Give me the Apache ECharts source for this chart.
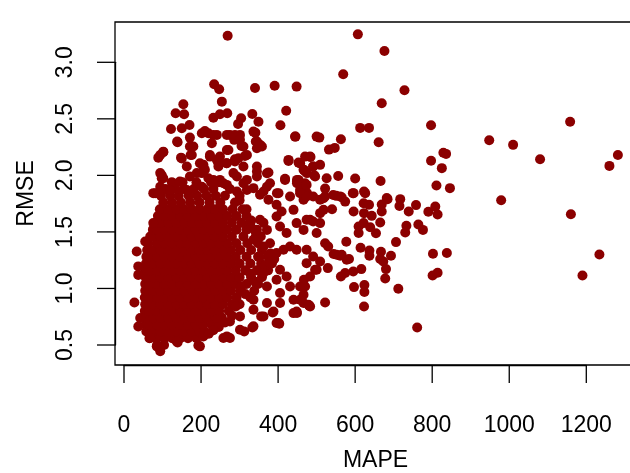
<!DOCTYPE html>
<html>
<head>
<meta charset="utf-8">
<script src="https://cdn.jsdelivr.net/npm/echarts@6/dist/echarts.min.js"></script>
<style>
html,body{margin:0;padding:0;background:#fff;}
#chart{width:630px;height:473px;}
</style>
</head>
<body>
<div id="chart"></div>
<script>
// ---- data (MAPE, RMSE) ----
var xTicks = [0, 200, 400, 600, 800, 1000, 1200];
var yTicks = [0.5, 1.0, 1.5, 2.0, 2.5, 3.0];

// dense core: each row = [RMSE, MAPE values...]
var coreRows = [
  [0.50, 86, 104],
  [0.56, 66, 85, 105, 125, 146, 166, 188],
  [0.62, 58, 76, 95, 115, 136, 156, 176, 196, 210],
  [0.68, 56, 66, 86, 105, 125, 146, 166, 186, 206, 228],
  [0.74, 55, 76, 95, 115, 136, 156, 176, 196, 216, 236, 254],
  [0.80, 54, 66, 86, 105, 125, 146, 166, 186, 206, 226, 247, 272],
  [0.86, 55, 76, 95, 115, 136, 156, 176, 196, 216, 236, 257, 280, 300],
  [0.92, 54, 66, 86, 105, 125, 146, 166, 186, 206, 226, 247, 268, 292, 328],
  [0.98, 55, 76, 95, 115, 136, 156, 176, 196, 216, 236, 257, 278, 302, 338],
  [1.04, 55, 66, 86, 105, 125, 146, 166, 186, 206, 226, 247, 268, 290, 318, 348],
  [1.10, 56, 76, 95, 115, 136, 156, 176, 196, 216, 236, 257, 278, 300, 330, 358],
  [1.16, 55, 66, 86, 105, 125, 146, 166, 186, 206, 226, 247, 268, 290, 315, 345, 374],
  [1.22, 57, 76, 95, 115, 136, 156, 176, 196, 216, 236, 257, 278, 300, 328, 356, 384],
  [1.28, 58, 66, 86, 105, 125, 146, 166, 186, 206, 226, 247, 268, 290, 318, 348, 374],
  [1.34, 60, 76, 95, 115, 136, 156, 176, 196, 216, 236, 257, 278, 302, 330, 358],
  [1.40, 63, 86, 105, 125, 146, 166, 186, 206, 226, 247, 268, 292, 320, 348],
  [1.46, 68, 76, 95, 115, 136, 156, 176, 196, 216, 236, 257, 280, 310, 342],
  [1.52, 75, 86, 105, 125, 146, 166, 186, 206, 226, 247, 268, 292, 318, 338],
  [1.58, 82, 95, 115, 136, 156, 176, 196, 216, 236, 257, 280, 305, 328],
  [1.64, 88, 105, 125, 146, 166, 186, 206, 226, 247, 268, 292, 318],
  [1.70, 93, 115, 136, 156, 176, 196, 216, 236, 257, 282, 308],
  [1.76, 102, 125, 148, 172, 196, 222, 250, 288],
  [1.82, 96, 120, 142, 168, 190, 214, 238, 262, 300],
  [1.88, 108, 134, 156, 181, 208, 232, 275],
  [1.94, 124, 152, 188, 226, 246]
];

var edgePoints = [
  [33,1.327],[37,1.195],[37,1.12],[27,0.876],[42,0.738],[37,0.664],[94,0.444],[85,0.488],[68,0.562],
  [55,1.416],[76,1.578],[81,1.843],[94,1.90],[111,1.87],[139,0.523],[193,0.496],[206,0.576],[267,0.576],
  [275,0.562],[312,0.62],[333,0.655],[356,0.753],[386,0.788],[403,0.688],[449,0.783],[301,0.753],
  [241,0.723],[275,0.708],[258,0.562],[137,0.532],[197,0.488],[301,0.635],[336,0.665],
  [290,0.84],[315,0.95],[340,1.06],[365,1.20],[390,1.26],[380,1.31],[355,1.46],[330,1.60],
  [318,1.70],[300,1.78],[280,0.76],[262,0.70],[246,0.66],[232,0.63],[220,0.60],[305,1.02],
  [328,1.13],[352,1.28],[345,1.52],[362,1.58]
];

var upperPoints = [
  [269,3.235],[234,2.806],[247,2.762],[340,2.773],[391,2.793],[448,2.785],[254,2.652],[154,2.629],
  [134,2.55],[156,2.54],[421,2.572],[232,2.51],[249,2.54],[268,2.55],[333,2.543],[349,2.475],
  [304,2.505],[296,2.455],[406,2.443],[122,2.41],[150,2.417],[170,2.446],[210,2.393],[232,2.358],
  [341,2.378],[445,2.343],[139,2.293],[171,2.334],[180,2.255],[275,2.358],[301,2.358],[286,2.314],
  [305,2.26],[228,2.284],[342,2.30],[358,2.255],[345,2.24],[267,2.225],[89,2.157],[102,2.205],
  [148,2.157],[173,2.181],[223,2.166],[245,2.108],[266,2.108],[288,2.143],[314,2.172],[427,2.128],
  [453,2.113],[470,2.166],[345,2.078],[375,2.025],[418,1.97],[449,1.946],[98,2.0],[98,1.975],
  [206,2.093],[202,2.02],[138,2.30],[171,2.255],[176,2.18],[94,2.18],[102,2.21],[150,2.15],
  [197,2.108],[206,2.078],[223,2.18],[241,2.137],[249,2.166],[271,2.225],[267,2.108],[288,2.122],
  [297,2.152],[319,2.18],[202,2.373],[219,2.373],[241,2.358],[267,2.358],[288,2.358],[301,2.314],
  [310,2.255],[345,2.30],[353,2.27],[336,2.387],[345,2.034],[371,2.019],[379,1.93],[371,1.90],
  [401,1.843],[418,1.96],[427,2.137],[457,2.108],[483,2.166],[491,2.078],[470,2.034],[449,1.96],
  [470,1.93],[496,1.99],[509,2.093],[444,2.343],[500,2.343],[76,1.843],[102,1.87],[128,1.93],
  [145,1.945],[163,1.87],[202,1.90],[219,1.975],[249,1.96],[267,1.916],[293,1.857],[319,1.87],
  [336,1.887],[293,1.99],[310,1.93],[94,2.02],[102,1.975],[89,1.843],[119,1.87],[171,1.99],
  [163,2.078],[189,2.02],[210,2.049],[232,1.96],[245,2.078],[258,1.93],[284,2.02],[310,2.078],
  [319,1.96],[345,1.99],[362,1.857],[397,1.843],[475,2.02],[453,1.96],[470,1.916],[466,1.857],[431,1.813]
];

var middlePoints = [
  [353,1.828],[375,1.784],[396,1.74],[409,1.68],[396,1.636],[440,1.695],[466,1.784],[475,1.843],
  [457,1.87],[449,1.93],[491,1.813],[509,1.784],[353,1.607],[371,1.518],[405,1.548],[422,1.49],
  [448,1.578],[466,1.518],[483,1.607],[336,1.43],[362,1.371],[379,1.40],[396,1.313],[414,1.342],
  [431,1.371],[448,1.342],[474,1.342],[491,1.283],[474,1.224],[500,1.165],[379,1.224],[405,1.165],
  [422,1.106],[396,1.077],[362,1.136],[371,1.018],[405,0.96],[431,1.018],[457,1.018],[440,0.90],
  [405,0.871],[371,0.871],[336,0.90],[336,0.812],[362,0.753],[396,0.694],[440,0.782],[466,0.871],
  [483,0.841],[388,0.797],[401,0.694],[448,0.797],[479,0.856],
  [457,2.108],[466,2.049],[474,1.916],[457,1.843],[474,1.813],[522,1.813],[543,1.827],[561,1.813],
  [509,1.666],[491,1.592],[474,1.607],[509,1.578],[500,1.49],[522,1.40],[530,1.371],[552,1.298],
  [565,1.298],[578,1.254],[529,1.18],[509,1.238],[496,1.165],[483,1.106],[467,1.077],[470,1.018],
  [466,0.944],[457,0.9]
];

var farPoints = [
  [607,3.247],[676,3.10],[569,2.894],[728,2.753],[669,2.638],[613,2.42],[636,2.42],
  [797,2.443],[1158,2.475],[507,2.334],[563,2.32],[532,2.228],[547,2.243],[661,2.293],[948,2.31],
  [1010,2.27],[829,2.20],[836,2.19],[1080,2.143],[797,2.13],[825,2.064],[1282,2.18],[1260,2.084],
  [484,2.163],[491,2.078],[467,2.049],[494,2.0],[556,1.995],[600,1.972],[666,1.95],[526,1.975],
  [522,1.883],[594,1.843],[623,1.857],[811,1.91],[846,1.887],[979,1.78],[682,1.80],[717,1.79],
  [1160,1.657],[1234,1.30],[1190,1.115],[802,1.307],[838,1.313],[801,1.115],[814,1.139],[761,0.655],
  [712,0.997],[623,0.841],[522,0.876],[481,0.847],[597,1.012],[624,1.03],[624,0.968],[678,1.088],
  [680,1.171],[665,1.26],[673,1.238],[693,1.289],[667,1.324],[616,1.171],[595,1.15],[563,1.106],
  [574,1.136],[614,1.36],[637,1.336],[637,1.289],[584,1.26],[561,1.289],[544,1.304],[577,1.413],
  [706,1.41],[733,1.554],[730,1.495],[764,1.565],[776,1.518],[790,1.678],[808,1.724],[814,1.654],
  [758,1.737],[739,1.68],[715,1.73],[684,1.79],[669,1.742],[669,1.68],[665,1.583],[654,1.489],
  [639,1.542],[622,1.578],[609,1.548],[609,1.49],[596,1.68],[622,1.754],[636,1.74],[626,1.843],
  [596,1.843],[623,1.666],[643,1.642],[551,1.819],[565,1.807],[574,1.768],[518,1.798],[540,1.70],
  [518,1.695]
];

// ---- build the point list ----
var points = [];
coreRows.forEach(function (row) {
  for (var i = 1; i < row.length; i++) points.push([row[i], row[0]]);
});
points = points.concat(edgePoints, upperPoints, middlePoints, farPoints);

// plot region (R-style: data range padded by 4%)
var xLim = [-23.4, 1329];
var TICK_LEN = 18;
var LW = 1.3;
var FONT = '"Liberation Sans", Arial, Helvetica, sans-serif';
var BLACK = '#000';
var chart = echarts.init(document.getElementById('chart'), null, {renderer: 'canvas'});
var option = {
  animation: false,
  backgroundColor: '#fff',
  grid: [
    // 0: data grid, y axis on the box's left edge
    {left: 115, top: 62.3, width: 521, height: 282.7, outerBoundsMode: 'none', containLabel: false},
    // 1: x axis grid (0..1200), axis on the box's bottom edge
    {left: 124, top: 22, width: 462.3, height: 343, outerBoundsMode: 'none', containLabel: false},
    // 2: the box
    {left: 115, top: 22, width: 521, height: 343, show: true, outerBoundsMode: 'none', containLabel: false,
     borderColor: BLACK, borderWidth: LW, backgroundColor: 'transparent'}
  ],
  xAxis: [
    {gridIndex: 0, type: 'value', show: false, min: xLim[0], max: xLim[1]},
    {gridIndex: 1, type: 'value', min: xTicks[0], max: xTicks[xTicks.length - 1], interval: 200,
     axisLine: {show: true, onZero: false, lineStyle: {color: BLACK, width: LW}},
     axisTick: {show: false},
     axisLabel: {show: true, margin: 49, fontSize: 23, color: BLACK, fontFamily: FONT,
       formatter: function (v) { return String(v); }},
     splitLine: {show: false}},
    {gridIndex: 2, type: 'value', show: false, min: 0, max: 1}
  ],
  yAxis: [
    {gridIndex: 0, type: 'value', min: yTicks[0], max: yTicks[yTicks.length - 1], interval: 0.5,
     axisLine: {show: true, onZero: false, lineStyle: {color: BLACK, width: LW}},
     axisTick: {show: false},
     axisLabel: {show: true, margin: 38, rotate: 90, fontSize: 23, color: BLACK, fontFamily: FONT,
       formatter: function (v) { return v.toFixed(1); }},
     splitLine: {show: false}},
    {gridIndex: 1, type: 'value', show: false, min: 0, max: 1},
    {gridIndex: 2, type: 'value', show: false, min: 0, max: 1}
  ],
  series: [{
    type: 'scatter',
    xAxisIndex: 0, yAxisIndex: 0,
    clip: false,
    symbol: 'circle',
    symbolSize: 10,
    itemStyle: {color: '#8B0000', opacity: 1},
    emphasis: {disabled: true},
    silent: true,
    data: points
  }]
};
chart.setOption(option);

// tick marks and axis titles, placed through the axes' own scales
var g = [];
var axisY = chart.convertToPixel({yAxisIndex: 1}, 0);      // bottom of box
var axisX = chart.convertToPixel({xAxisIndex: 0}, xLim[0]); // left of box
xTicks.forEach(function (v) {
  var px = chart.convertToPixel({xAxisIndex: 1}, v);
  g.push({type: 'line', shape: {x1: px, y1: axisY, x2: px, y2: axisY + TICK_LEN},
          style: {stroke: BLACK, lineWidth: LW}, silent: true});
});
yTicks.forEach(function (v) {
  var py = chart.convertToPixel({yAxisIndex: 0}, v);
  g.push({type: 'line', shape: {x1: axisX - TICK_LEN, y1: py, x2: axisX, y2: py},
          style: {stroke: BLACK, lineWidth: LW}, silent: true});
});
var boxTop = chart.convertToPixel({yAxisIndex: 1}, 1);
var boxRight = chart.convertToPixel({xAxisIndex: 0}, xLim[1]);
g.push({type: 'text', x: (axisX + boxRight) / 2, y: 461, silent: true,
        style: {text: 'MAPE', fontSize: 23, fontFamily: FONT, fill: BLACK, align: 'center', verticalAlign: 'middle'}});
g.push({type: 'text', x: 27, y: (boxTop + axisY) / 2, rotation: Math.PI / 2, silent: true,
        style: {text: 'RMSE', fontSize: 23, fontFamily: FONT, fill: BLACK, align: 'center', verticalAlign: 'middle'}});
chart.setOption({graphic: g});
</script>
</body>
</html>
